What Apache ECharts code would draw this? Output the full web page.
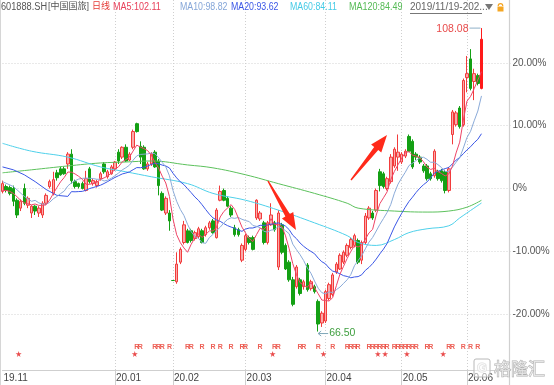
<!DOCTYPE html>
<html><head><meta charset="utf-8">
<script src="https://cdn.jsdelivr.net/npm/echarts@6/dist/echarts.min.js"></script>
<style>html,body{margin:0;padding:0;background:#fff}#c{width:554px;height:385px}</style>
</head><body><div id="c"></div>
<script>
// ---------- data ----------
const dates = [
'2019/11/19','2019/11/20','2019/11/21','2019/11/22','2019/11/25','2019/11/26','2019/11/27','2019/11/28','2019/11/29',
'2019/12/02','2019/12/03','2019/12/04','2019/12/05','2019/12/06','2019/12/09','2019/12/10','2019/12/11','2019/12/12','2019/12/13','2019/12/16','2019/12/17','2019/12/18','2019/12/19','2019/12/20','2019/12/23','2019/12/24','2019/12/25','2019/12/26','2019/12/27','2019/12/30','2019/12/31',
'2020/01/02','2020/01/03','2020/01/06','2020/01/07','2020/01/08','2020/01/09','2020/01/10','2020/01/13','2020/01/14','2020/01/15','2020/01/16','2020/01/17','2020/01/20','2020/01/21','2020/01/22','2020/01/23',
'2020/02/03','2020/02/04','2020/02/05','2020/02/06','2020/02/07','2020/02/10','2020/02/11','2020/02/12','2020/02/13','2020/02/14','2020/02/17','2020/02/18','2020/02/19','2020/02/20','2020/02/21','2020/02/24','2020/02/25','2020/02/26','2020/02/27','2020/02/28',
'2020/03/02','2020/03/03','2020/03/04','2020/03/05','2020/03/06','2020/03/09','2020/03/10','2020/03/11','2020/03/12','2020/03/13','2020/03/16','2020/03/17','2020/03/18','2020/03/19','2020/03/20','2020/03/23','2020/03/24','2020/03/25','2020/03/26','2020/03/27','2020/03/30','2020/03/31',
'2020/04/01','2020/04/02','2020/04/03','2020/04/07','2020/04/08','2020/04/09','2020/04/10','2020/04/13','2020/04/14','2020/04/15','2020/04/16','2020/04/17','2020/04/20','2020/04/21','2020/04/22','2020/04/23','2020/04/24','2020/04/27','2020/04/28','2020/04/29','2020/04/30',
'2020/05/06','2020/05/07','2020/05/08','2020/05/11','2020/05/12','2020/05/13','2020/05/14','2020/05/15','2020/05/18','2020/05/19','2020/05/20','2020/05/21','2020/05/22','2020/05/25','2020/05/26','2020/05/27','2020/05/28','2020/05/29',
'2020/06/01','2020/06/02','2020/06/03','2020/06/04','2020/06/05'];
// empty trading slots to the right of the last candle
const futureDates = ['2020/06/08','2020/06/09','2020/06/10','2020/06/11','2020/06/12','2020/06/15','2020/06/16','2020/06/17'];
// tick labels (month starts shown on the axis)
const monthLabelDates = ['2019/11/19','2020/01/02','2020/02/03','2020/03/02','2020/04/01','2020/05/06','2020/06/01'];

const opens = [85.70,86.37,86.23,86.10,84.49,83.41,86.10,83.81,82.74,83.68,
82.74,82.47,84.08,86.37,85.43,88.25,88.79,88.79,89.46,90.81,
87.04,86.77,86.77,85.83,88.79,86.77,86.50,87.45,89.46,87.71,
88.12,88.79,91.08,90.40,91.75,90.00,91.75,94.98,91.88,91.75,
88.79,89.46,91.08,89.87,85.43,82.74,82.74,73.49,73.32,76.01,
78.70,80.31,80.31,79.24,79.51,80.31,79.78,80.72,81.66,79.37,
84.49,85.83,84.75,83.41,80.72,80.45,76.28,77.76,79.37,79.37,
82.06,81.93,81.39,78.70,81.12,81.39,75.34,81.12,78.30,76.01,
73.59,72.65,73.59,72.65,75.61,72.38,72.65,70.63,67.67,67.94,
71.03,71.57,74.67,75.07,76.01,76.95,78.03,78.30,78.97,76.28,
78.70,82.06,82.74,83.14,88.39,88.12,86.10,87.04,89.19,90.40,
89.73,90.54,93.23,92.56,90.81,90.40,89.19,89.19,88.12,87.85,
88.39,88.52,88.39,85.83,93.50,94.84,97.13,94.84,101.30,103.86,
100.76,101.57,99.82];
const closes = [86.77,85.83,85.43,84.35,82.47,84.35,84.08,84.75,83.68,83.01,
83.41,84.08,85.16,87.04,87.31,87.58,87.98,88.12,90.81,87.18,
86.37,86.37,86.10,87.45,87.04,87.18,87.04,88.12,88.39,88.39,
89.06,89.73,89.87,91.75,89.87,90.81,93.90,93.90,90.40,88.79,
89.46,90.81,89.06,86.50,83.14,84.75,81.66,73.49,75.74,77.76,
81.12,78.70,78.97,80.05,80.58,78.70,80.72,81.39,80.05,83.14,
85.70,84.49,83.68,82.47,79.78,79.78,78.30,79.64,78.70,77.76,
84.49,82.74,78.70,81.39,82.47,80.45,82.74,77.36,75.07,73.59,
70.23,75.34,71.71,73.32,72.24,73.32,71.97,67.53,69.01,71.97,
72.92,74.26,75.74,76.95,77.36,78.30,79.10,79.64,76.01,78.70,
82.33,83.41,82.06,85.83,86.50,86.37,87.45,90.40,91.48,91.08,
90.81,91.21,91.21,89.06,90.40,89.73,88.52,87.45,87.45,91.21,
87.45,87.18,85.83,88.79,96.59,96.46,94.58,100.90,101.84,99.82,
101.84,100.50,106.55];
const lows = [85.43,85.56,85.16,83.68,82.06,83.01,83.81,83.41,82.06,82.47,
82.20,82.06,83.81,86.10,85.16,87.18,87.85,87.98,88.79,86.77,
86.10,86.10,85.97,85.70,86.77,86.50,86.23,87.18,88.12,87.45,
87.98,88.52,89.46,90.14,89.73,89.87,91.48,93.77,89.46,88.66,
88.52,89.19,88.93,85.16,83.01,82.47,80.31,73.49,73.05,75.74,
78.43,78.57,78.70,78.97,79.24,78.57,79.51,80.45,79.91,79.24,
84.35,84.35,83.54,82.20,79.51,79.51,76.01,77.49,78.43,77.62,
81.80,81.66,78.43,78.43,80.99,80.18,74.93,77.09,74.93,73.32,
69.96,72.38,71.44,72.24,71.97,72.11,71.71,66.50,67.13,67.67,
70.76,71.30,74.40,74.93,75.74,76.68,77.76,78.03,75.74,75.74,
78.43,81.80,81.80,82.87,85.70,86.10,85.83,86.77,88.93,88.52,
89.46,90.27,91.08,88.79,90.00,89.46,88.25,87.18,87.18,87.58,
87.18,86.91,85.43,85.56,92.15,94.58,94.31,94.58,99.28,99.55,
98.21,100.23,99.69];
const highs = [87.18,86.64,86.50,86.50,84.75,84.62,86.77,85.02,83.81,83.81,
83.68,84.35,85.43,87.31,88.39,88.66,89.06,89.06,91.08,91.48,
87.31,86.91,87.04,88.52,89.06,87.45,87.31,88.39,89.73,88.66,
89.33,89.87,91.48,91.88,92.15,91.08,94.17,95.11,92.56,92.02,
89.73,91.08,91.35,90.14,85.70,85.02,83.14,73.49,77.36,78.03,
81.66,80.58,80.58,80.31,80.85,80.58,80.99,81.66,81.93,83.41,
86.50,86.10,85.02,83.68,81.12,80.72,78.57,79.91,79.64,79.64,
84.62,83.01,81.66,81.66,84.08,81.66,83.14,81.39,78.57,76.28,
73.99,75.61,73.86,73.59,75.88,73.59,72.92,70.90,69.28,72.24,
73.19,74.53,76.01,77.22,77.62,78.57,79.37,79.91,79.24,78.97,
82.74,83.68,83.01,86.10,88.79,88.39,87.71,90.81,91.75,93.50,
91.08,91.48,93.50,92.83,91.08,90.67,89.46,89.46,88.39,91.48,
88.66,88.79,88.66,89.06,96.86,96.73,97.40,101.17,104.26,105.20,
102.51,101.84,108.08];

// moving-average values read from the picture where the window has no history
const ma5Early  = [[0,85.83],[1,85.83],[2,85.70],[3,85.43]];
const ma10Early = [[0,87.04],[3,86.37],[6,85.02],[8,84.35]];
const ma20Early = [[0,89.06],[3,88.66],[6,87.98],[9,87.04],[12,85.97],[15,85.16],[18,85.02]];
// long moving averages ([dayIndex, price])
const ma60Read  = [[0,92.29],[8,91.21],[18,90.40],[27,89.06],[34,88.39],[41,87.71],[51,86.77],[58,85.43],[67,84.49],[76,83.14],[86,81.39],[95,79.64],[98,78.70],[103,78.30],[108,79.10],[112,80.05],[117,80.58],[123,80.99],[126,82.06],[132,84.11]];
const ma120Read = [[0,88.25],[8,88.66],[18,89.19],[27,89.60],[34,89.73],[41,89.87],[51,89.33],[58,88.93],[67,87.98],[76,86.77],[86,85.43],[95,84.08],[98,83.41],[108,83.01],[117,82.87],[123,83.01],[128,83.54],[132,84.49]];

// event markers (day indices)
const rMarkIdx = [37,38,42,43,44,46,51,52,55,58,60,63,66,67,71,75,76,82,83,87,91,95,96,97,98,101,102,103,104,105,106,108,109,110,111,112,113,114,117,118,123,124,127,129,131];
const starIdx = [5,37,75,89,104,106,112,122];

const basePrice = 86.1;   // price at the 0% line
// ---------- build ----------
const FONT = "'Liberation Sans','Noto Sans CJK SC',sans-serif";
const pct = p => (p / basePrice - 1) * 100;
const cats = dates.concat(futureDates);
const monthIdx = monthLabelDates.map(d => cats.indexOf(d));
const lastIdx = closes.length - 1;
const candleData = opens.map((o, i) => {
  const v = [pct(o), pct(closes[i]), pct(lows[i]), pct(highs[i])];
  if (i === lastIdx) return {value: v, itemStyle: {color: '#ff1a1a', borderColor: '#ff1a1a'}};
  return v;
});
function ma(n, early) {
  const out = early.map(([i, v]) => [i, pct(v)]);
  for (let i = n - 1; i < closes.length; i++) {
    let s = 0; for (let k = i - n + 1; k <= i; k++) s += closes[k];
    out.push([i, pct(s / n)]);
  }
  return out;
}
const readLine = arr => arr.map(([i, v]) => [i, pct(v)]);
const maLine = (name, data, color, smooth) => ({
  name, type: 'line', xAxisIndex: 0, yAxisIndex: 0, data, showSymbol: false, smooth: smooth || false,
  lineStyle: {width: 1, color}, itemStyle: {color}, z: 5, silent: true, clip: false
});

const option = {
  animation: false,
  grid: [
    {left: 2.5, width: 508, top: -7, height: 384},
    {left: 2.5, width: 508, top: 0, height: 370}
  ],
  xAxis: [
    {gridIndex: 0, type: 'category', data: cats, boundaryGap: false, show: false},
    {gridIndex: 1, type: 'category', data: cats, boundaryGap: false,
      axisLine: {lineStyle: {color: '#cfcfcf'}},
      axisTick: {interval: (i) => monthIdx.indexOf(i) > 0, length: 15, lineStyle: {color: '#cfcfcf'}},
      axisLabel: {interval: (i) => monthIdx.indexOf(i) >= 0, align: 'left', margin: 3, fontSize: 10,
        color: '#444', fontFamily: FONT, padding: [0, 0, 0, 1],
        formatter: v => v.slice(2, 4) + '.' + v.slice(5, 7)},
      splitLine: {show: true, interval: (i) => monthIdx.indexOf(i) > 0, lineStyle: {color: '#cfcfcf', type: [1, 2]}}
    },
    {gridIndex: 1, type: 'category', data: cats, boundaryGap: false,
      axisLine: {show: false}, axisLabel: {show: false}, splitLine: {show: false},
      axisTick: {interval: 4, length: 3, lineStyle: {color: '#d5d5d5'}}}
  ],
  yAxis: [
    {gridIndex: 0, type: 'value', position: 'right', min: -30, max: 30, interval: 10,
      axisLine: {show: false}, axisTick: {show: false},
      axisLabel: {margin: 2, fontSize: 10, color: '#555', fontFamily: FONT,
        formatter: v => Math.abs(v) > 25 ? '' : (Math.abs(v) < 1e-9 ? '0%' : v.toFixed(2) + '%')},
      splitLine: {lineStyle: {color: '#d2d2d2', type: [1, 2]}, showMinLine: false, showMaxLine: false}
    },
    {gridIndex: 1, type: 'value', min: 0, max: 370, show: false}
  ],
  series: [
    {type: 'candlestick', xAxisIndex: 0, yAxisIndex: 0, data: candleData, barWidth: 3, clip: false,
      itemStyle: {color: '#f9aaaa', color0: '#14a014', borderColor: '#f23c3c', borderColor0: '#14a014', borderWidth: 1},
      z: 3, silent: true},
    maLine('MA120', readLine(ma120Read), '#5cc15c', 0.4),
    maLine('MA60', readLine(ma60Read), '#4ed0ea', 0.4),
    maLine('MA20', ma(20, ma20Early), '#3a56e6'),
    maLine('MA10', ma(10, ma10Early), '#8aaad8'),
    maLine('MA5', ma(5, ma5Early), '#ee4466'),
    {type: 'scatter', xAxisIndex: 1, yAxisIndex: 1, data: rMarkIdx.map(i => [i, 23]),
      symbolSize: 2, itemStyle: {color: 'rgba(0,0,0,0)'}, silent: true,
      label: {show: true, position: 'inside', formatter: 'R', fontSize: 7, fontWeight: 'bold', color: '#e8382c', fontFamily: FONT}},
    {type: 'scatter', xAxisIndex: 1, yAxisIndex: 1, data: starIdx.map(i => [i, 16]),
      symbol: 'path://M50,0 L61,35 L98,35 L68,57 L79,91 L50,70 L21,91 L32,57 L2,35 L39,35 Z',
      symbolSize: 6, symbolOffset: [-2, 0], itemStyle: {color: '#e41e1e'}, silent: true}
  ]
};

const chart = echarts.init(document.getElementById('c'));
chart.setOption(option);

// ---------- annotations ----------
function arrowPoly(tail, tip) {
  const dx = tip[0] - tail[0], dy = tip[1] - tail[1], L = Math.hypot(dx, dy);
  const nx = -dy / L, ny = dx / L;
  const bx = tail[0] + dx * 0.7, by = tail[1] + dy * 0.7;
  const p = (x, y, s) => [x + nx * s, y + ny * s];
  return [p(tail[0], tail[1], 0.7), p(bx, by, 2.6), p(bx, by, 6.5), tip, p(bx, by, -6.5), p(bx, by, -2.6), p(tail[0], tail[1], -0.7)];
}
const txt = (x, y, text, fill, extra, sx) => Object.assign({type: 'text', x, y, z: 100, silent: true, scaleX: sx || 1,
  style: Object.assign({text, fill, fontSize: 10, fontFamily: FONT, verticalAlign: 'middle', align: 'left'}, extra || {})});
const line = (x1, y1, x2, y2, stroke, w) => ({type: 'line', z: 100, silent: true,
  shape: {x1, y1, x2, y2}, style: {stroke, lineWidth: w || 1}});

const hiIdx = highs.indexOf(Math.max(...highs));
const loIdx = lows.indexOf(Math.min(...lows));
const hp = chart.convertToPixel({gridIndex: 0}, [hiIdx, pct(highs[hiIdx])]);
const lp = chart.convertToPixel({gridIndex: 0}, [loIdx, pct(lows[loIdx])]);

const graphics = [
  // frame lines
  line(0.5, 0, 0.5, 385, '#d6d6d6'),
  line(509.5, 0, 509.5, 385, '#d0d0d0', 1.2),
  // header
  txt(1, 7, '601888.SH', '#555', null, 0.92),
  txt(48, 7, '[中国国旅]', '#555', {fontSize: 9}),
  txt(92, 7, '日线', '#e53935', {fontSize: 9}),
  txt(113, 7, 'MA5:102.11', '#e8405a', null, 0.9),
  txt(180, 7, 'MA10:98.82', '#85a6d8', null, 0.88),
  txt(231, 7, 'MA20:93.62', '#3a56e6', null, 0.88),
  txt(290, 7, 'MA60:84.11', '#45cbe6', null, 0.88),
  txt(349, 7, 'MA120:84.49', '#55bb55', null, 0.9),
  txt(410, 7, '2019/11/19-202...', '#666'),
  line(410, 13.5, 482, 13.5, '#777'),
  {type: 'polygon', z: 100, silent: true, shape: {points: [[485, 4], [493, 4], [489, 10]]}, style: {fill: '#777'}},
  {type: 'arc', z: 100, silent: true, shape: {cx: 500.5, cy: 6, r: 2.3, startAngle: Math.PI, endAngle: 2 * Math.PI}, style: {stroke: '#f5a623', lineWidth: 1.2, fill: 'none'}},
  {type: 'rect', z: 100, silent: true, shape: {x: 497.5, y: 6.5, width: 6, height: 5}, style: {fill: '#f5a623'}},
  // hand-drawn red arrows
  {type: 'polygon', z: 90, silent: true, shape: {points: arrowPoly([268, 181], [296, 230])}, style: {fill: '#ff2a1a'}},
  {type: 'polygon', z: 90, silent: true, shape: {points: arrowPoly([351, 180], [387, 135])}, style: {fill: '#ff2a1a'}},
  // high / low labels
  line(hp[0] - 12, hp[1], hp[0] - 1, hp[1], '#8fb0c8'),
  txt(hp[0] - 13, hp[1] + 1, highs[hiIdx].toFixed(2), '#e84a4a', {align: 'right', fontSize: 10.5}),
  line(lp[0], lp[1] + 2, lp[0] + 10, lp[1] + 2, '#7fa8b8'),
  line(lp[0], lp[1] + 2, lp[0] + 3, lp[1] - 0.5, '#7fa8b8'),
  line(lp[0], lp[1] + 2, lp[0] + 3, lp[1] + 4.5, '#7fa8b8'),
  txt(lp[0] + 11, lp[1] + 2, lows[loIdx].toFixed(2), '#3f9f3f', {fontSize: 10.5}),
  // watermark
  {type: 'rect', z: 110, silent: true, shape: {x: 474, y: 359, width: 16, height: 18, r: 2}, style: {fill: 'rgba(255,255,255,0.55)', stroke: '#b8b8b8', lineWidth: 1}},
  txt(477, 368.5, 'G', 'rgba(255,255,255,0.6)', {fontSize: 13, fontWeight: 'bold', stroke: '#b0b0b0', lineWidth: 1}),
  txt(494, 368.5, '格隆汇', 'rgba(255,255,255,0.6)', {fontSize: 17, stroke: '#b0b0b0', lineWidth: 1, fontFamily: "'Noto Sans CJK SC',sans-serif"})
];
chart.setOption({graphic: graphics});
</script>
</body></html>
